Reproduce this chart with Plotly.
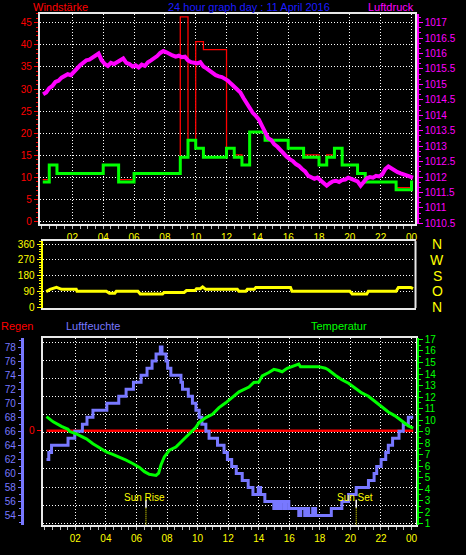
import plotly.graph_objects as go

W, H = 466, 555
FONT = "Liberation Sans Narrow, Liberation Sans, DejaVu Sans, sans-serif"

# ---------------- DATA ----------------
hour_ticks = [2, 4, 6, 8, 10, 12, 14, 16, 18, 20, 22, 24]
hour_labels = ["02", "04", "06", "08", "10", "12", "14", "16", "18", "20", "22", "00"]

# average wind (km/h), step series
wind_hours = [0.08, 0.5, 1.0, 4.0, 5.0, 6.0, 9.0, 9.5, 10.0, 10.5, 12.0, 12.5, 13.0,
              13.5, 14.5, 16.0, 17.0, 18.0, 18.5, 19.0, 19.5, 20.5, 21.0, 23.0, 24.0, 24.1]
wind_avg = [9.0, 12.8, 10.9, 12.8, 9.0, 10.9, 14.6, 18.4, 16.6, 14.6, 16.6, 14.6, 12.8,
            20.3, 18.4, 16.6, 14.6, 12.8, 14.6, 16.6, 12.8, 10.9, 9.0, 7.2, 9.0, 9.0]
# gusts (km/h), same step times
wind_gust = [9.5, 12.8, 10.9, 12.8, 9.5, 10.9, 46.3, 18.4, 40.7, 38.9, 16.6, 15.1, 12.8,
             20.3, 18.4, 16.6, 15.1, 12.8, 15.1, 16.6, 12.8, 10.9, 9.0, 7.7, 9.0, 9.0]

# air pressure (hPa), sampled every 12 minutes from 00:06
pressure = [
    1014.68, 1014.74, 1014.88, 1014.95, 1015.08, 1015.12, 1015.22, 1015.27, 1015.33, 1015.30,
    1015.42, 1015.50, 1015.62, 1015.70, 1015.78, 1015.80, 1015.88, 1015.93, 1016.00, 1015.78,
    1015.66, 1015.60, 1015.70, 1015.66, 1015.72, 1015.76, 1015.84, 1015.70, 1015.66, 1015.58,
    1015.62, 1015.55, 1015.64, 1015.60, 1015.72, 1015.78, 1015.84, 1015.92, 1016.02, 1016.08,
    1016.04, 1015.98, 1015.94, 1015.90, 1015.93, 1015.88, 1015.90, 1015.78, 1015.72, 1015.70,
    1015.68, 1015.72, 1015.58, 1015.52, 1015.44, 1015.34, 1015.30, 1015.26, 1015.24, 1015.18,
    1015.12, 1015.02, 1014.94, 1014.84, 1014.74, 1014.56, 1014.40, 1014.22, 1014.08, 1013.98,
    1013.86, 1013.66, 1013.42, 1013.26, 1013.20, 1013.06, 1012.98, 1012.86, 1012.78, 1012.66,
    1012.58, 1012.52, 1012.42, 1012.36, 1012.26, 1012.18, 1012.04, 1012.00, 1011.94, 1011.98,
    1011.90, 1011.84, 1011.72, 1011.80, 1011.86, 1011.88, 1011.84, 1011.90, 1011.92, 1011.98,
    1011.94, 1011.90, 1011.86, 1011.72, 1011.84, 1011.96, 1012.00, 1011.98, 1012.04, 1012.02,
    1012.08, 1012.26, 1012.34, 1012.28, 1012.20, 1012.16, 1012.12, 1012.08, 1012.04, 1012.02,
    1011.98]
pressure_hours = [round(0.1 + 0.2 * i, 2) for i in range(len(pressure))]

pressure_ticks = [1010.5, 1011, 1011.5, 1012, 1012.5, 1013, 1013.5, 1014, 1014.5,
                  1015, 1015.5, 1016, 1016.5, 1017]
pressure_labels = ["1010.5", "1011", "1011.5", "1012", "1012.5", "1013", "1013.5", "1014",
                   "1014.5", "1015", "1015.5", "1016", "1016.5", "1017"]

# wind direction (degrees)
dir_hours = [0.3, 0.55, 0.97, 1.3, 2.25, 2.3, 4.2, 4.4, 4.75, 4.85, 6.25, 6.4, 7.85, 7.95,
             9.25, 9.4, 9.95, 10.05, 10.3, 10.45, 10.65, 12.7, 12.8, 13.25, 13.35, 13.8,
             13.9, 16.15, 16.25, 20.0, 20.15, 21.1, 21.2, 23.0, 23.15, 23.95, 24.1]
dir_deg = [88, 101, 112, 101, 101, 90, 90, 79, 79, 90, 90, 75, 75, 83,
           83, 94, 94, 105, 105, 115, 101, 101, 90, 90, 101, 101,
           112, 112, 90, 90, 75, 75, 90, 90, 112, 112, 105]
dir_ticks = [0, 90, 180, 270, 360]
dir_letters = ["N", "O", "S", "W", "N"]

# humidity (%), step series
hum_hours = [0.11, 0.26, 0.44, 1.52, 1.96, 2.46, 2.76, 3.15, 4.06, 4.84, 5.32, 5.80, 6.30,
             6.69, 7.02, 7.28, 7.56, 7.67, 7.93, 8.04, 8.25, 8.91, 9.01, 9.39, 9.66, 9.89,
             10.10, 10.28, 10.54, 10.75, 11.30, 11.73, 11.95, 12.23, 12.53, 12.92, 13.31,
             13.62, 13.97, 14.12, 14.40, 14.99, 15.12, 15.31, 15.44, 15.64, 15.77, 15.97,
             16.62, 16.75, 17.01, 17.14, 17.27, 17.53, 17.72, 18.75, 19.44, 19.88, 20.38,
             21.18, 21.55, 21.72, 22.01, 22.31, 22.48, 22.76, 23.18, 23.46, 23.79, 24.11]
humidity = [62, 63, 64, 65, 66, 67, 68, 69, 70, 71, 72, 73, 74,
            75, 76, 77, 78, 77, 76, 75, 74, 73, 72, 71, 70, 69,
            68, 67, 66, 65, 64, 63, 62, 61, 60, 59, 58,
            57, 58, 57, 56, 55, 56, 55, 56, 55, 56, 55,
            54, 55, 54, 55, 54, 55, 54, 55, 56, 57, 58,
            59, 60, 61, 62, 63, 64, 65, 66, 67, 68, 68]
hum_ticks = [54, 56, 58, 60, 62, 64, 66, 68, 70, 72, 74, 76, 78]

# temperature (°C)
temp_hours = [0.11, 0.55, 1.09, 1.52, 1.63, 2.06, 2.72, 3.15, 3.58, 4.02, 4.45, 4.89, 5.32,
              5.75, 6.19, 6.52, 6.84, 7.28, 7.45, 7.60, 7.82, 8.15, 8.58, 9.01, 9.45, 9.89,
              10.10, 10.54, 10.97, 11.40, 11.84, 12.27, 12.71, 13.36, 13.68, 14.01, 14.23,
              14.66, 14.99, 15.31, 15.53, 15.86, 16.18, 16.62, 16.73, 17.27, 17.92, 18.36,
              18.57, 19.01, 19.44, 19.88, 20.31, 20.74, 21.18, 21.62, 22.05, 22.48, 22.92,
              23.35, 23.79, 24.11]
temperature = [10.3, 9.85, 9.45, 9.2, 9.0, 8.8, 8.37, 7.94, 7.6, 7.23, 7.03, 6.8, 6.52,
               6.23, 5.89, 5.52, 5.29, 5.2, 5.4, 6.1, 6.8, 7.38, 7.66, 8.23, 8.8, 9.37,
               9.8, 10.22, 10.5, 11.08, 11.5, 11.93, 12.45, 12.87, 13.27, 13.3, 13.84,
               14.13, 14.4, 14.3, 14.2, 14.5, 14.64, 14.86, 14.64, 14.64, 14.64, 14.5,
               14.35, 13.9, 13.5, 13.2, 12.8, 12.36, 12.07, 11.65, 11.16, 10.7, 10.37,
               9.94, 9.5, 9.3]
temp_ticks = list(range(1, 18))

# rain (mm)
rain_hours = [0.11, 24.11]
rain = [0, 0]

# sun events
sun_events = ["Sun Rise", "Sun Set"]
sun_times = [6.62, 20.38]

# ---------------- STYLE ----------------
RED = "#ff0000"
GREEN = "#00ff00"
MAGENTA = "#ff00ff"
YELLOW = "#ffff00"
HUMC = "#7878ff"
TITLEC = "#1c1cff"
FRAME = "#e8e8e8"
GRID = dict(showgrid=True, gridcolor="#ffffff", gridwidth=1, griddash="1px,2px")


def fx(px):
    return px / W


def fy(py):
    return 1 - py / H


fig = go.Figure()

# top panel
fig.add_trace(go.Scatter(x=wind_hours, y=wind_gust, mode="lines", line=dict(color=RED, width=1.3, shape="hv"),
                         xaxis="x", yaxis="y", hoverinfo="skip"))
fig.add_trace(go.Scatter(x=wind_hours, y=wind_avg, mode="lines", line=dict(color=GREEN, width=3, shape="hv"),
                         xaxis="x", yaxis="y", hoverinfo="skip"))
fig.add_trace(go.Scatter(x=pressure_hours, y=pressure, mode="lines", line=dict(color=MAGENTA, width=4),
                         xaxis="x", yaxis="y2", hoverinfo="skip"))
# middle panel
fig.add_trace(go.Scatter(x=dir_hours, y=dir_deg, mode="lines", line=dict(color=YELLOW, width=3),
                         xaxis="x2", yaxis="y3", hoverinfo="skip"))
# bottom panel (rain on base axis, humidity & temperature overlaid)
fig.add_trace(go.Scatter(x=rain_hours, y=rain, mode="lines", line=dict(color=RED, width=2.5),
                         xaxis="x3", yaxis="y5", hoverinfo="skip"))
fig.add_trace(go.Scatter(x=hum_hours, y=humidity, mode="lines", line=dict(color=HUMC, width=3, shape="hv"),
                         xaxis="x3", yaxis="y6", hoverinfo="skip"))
fig.add_trace(go.Scatter(x=temp_hours, y=temperature, mode="lines", line=dict(color=GREEN, width=3),
                         xaxis="x3", yaxis="y7", hoverinfo="skip"))

tickfont_x = dict(color=YELLOW, size=10, family=FONT)
xcommon = dict(tickmode="array", tickvals=hour_ticks, ticktext=hour_labels, tickfont=tickfont_x,
               ticks="outside", ticklen=3, tickcolor="#bbbbbb", showline=True, linecolor=FRAME,
               linewidth=2, mirror=True, zeroline=False,
               minor=dict(dtick=0.5, tick0=0, ticks="outside", ticklen=3, tickcolor="#bbbbbb", showgrid=False))

layout = dict(
    width=W, height=H, autosize=False,
    margin=dict(l=0, r=0, t=0, b=0),
    paper_bgcolor="#000000", plot_bgcolor="#000000",
    showlegend=False,
    font=dict(family=FONT, size=10, color="#ffffff"),
    # ---- top panel
    xaxis=dict(domain=[fx(40), fx(417)], range=[-0.112, 24.24], anchor="y", **xcommon, **GRID),
    yaxis=dict(domain=[fy(224), fy(10)], range=[-0.6, 47.0], tickmode="array",
               tickvals=[0, 5, 10, 15, 20, 25, 30, 35, 40, 45],
               tickfont=dict(color=RED, size=10, family=FONT), ticks="outside", ticklen=4, tickcolor=RED,
               showline=True, linecolor=FRAME, linewidth=2, mirror=True, zeroline=False,
               minor=dict(dtick=1, tick0=0, ticks="outside", ticklen=2, tickcolor=RED, showgrid=False),
               anchor="x", **GRID),
    yaxis2=dict(overlaying="y", side="right", anchor="free", position=fx(419.5),
                range=[1010.467, 1017.287], tickmode="array", tickvals=pressure_ticks, ticktext=pressure_labels,
                tickfont=dict(color=MAGENTA, size=10, family=FONT), ticks="outside", ticklen=4,
                tickcolor=MAGENTA, showline=True, linecolor=MAGENTA, linewidth=2, showgrid=False,
                zeroline=False,
                minor=dict(dtick=0.5 / 3, tick0=1010.5, ticks="outside", ticklen=2, tickcolor=MAGENTA,
                           showgrid=False)),
    # ---- middle panel
    xaxis2=dict(domain=[fx(42.7), fx(417.3)], range=[0.062, 24.26], anchor="y3", showticklabels=False,
                ticks="", showgrid=False, showline=True, linecolor=FRAME, linewidth=2, mirror=True,
                zeroline=False),
    yaxis3=dict(domain=[fy(309), fy(241)], range=[-5.6, 377], anchor="x2", tickmode="array",
                tickvals=dir_ticks, tickfont=dict(color=YELLOW, size=10, family=FONT), ticks="outside",
                ticklen=4, tickcolor=YELLOW, showline=True, linecolor=YELLOW, linewidth=2, zeroline=False,
                minor=dict(dtick=15, tick0=0, ticks="outside", ticklen=2, tickcolor=YELLOW, showgrid=False),
                **GRID),
    # ---- bottom panel
    xaxis3=dict(domain=[fx(42.7), fx(417.3)], range=[-0.15, 24.26], anchor="y5", **xcommon, **GRID),
    yaxis5=dict(domain=[fy(529.3), fy(339.3)], range=[-5.213, 5.147], anchor="x3", tickmode="array",
                tickvals=[0], ticktext=["0"], tickfont=dict(color=RED, size=10, family=FONT),
                ticks="outside", ticklen=4, tickcolor=RED, showline=True, linecolor=FRAME, linewidth=2,
                mirror=True, zeroline=False, showgrid=False,
                minor=dict(tick0=-0.125, dtick=1, ticks="", showgrid=True, gridcolor="#ffffff",
                           gridwidth=1, griddash="1px,2px")),
    yaxis6=dict(overlaying="y5", side="left", anchor="free", position=fx(22), range=[52.70, 79.32],
                tickmode="array", tickvals=hum_ticks, tickfont=dict(color=HUMC, size=10, family=FONT),
                ticks="outside", ticklen=3, tickcolor=HUMC, showline=True, linecolor=HUMC, linewidth=3,
                showgrid=False, zeroline=False,
                minor=dict(dtick=1, tick0=0, ticks="outside", ticklen=2, tickcolor=HUMC, showgrid=False)),
    yaxis7=dict(overlaying="y5", side="right", anchor="free", position=fx(419.5), range=[0.915, 17.145],
                tickmode="array", tickvals=temp_ticks, tickfont=dict(color=GREEN, size=10, family=FONT),
                ticks="outside", ticklen=4, tickcolor=GREEN, showline=True, linecolor=GREEN, linewidth=2,
                showgrid=False, zeroline=False,
                minor=dict(dtick=0.5, tick0=0, ticks="outside", ticklen=2, tickcolor=GREEN, showgrid=False)),
)
fig.update_layout(**layout)

shapes = []
annotations = []

# right white border of the middle panel
shapes.append(dict(type="line", xref="x2 domain", yref="y3 domain", x0=1, x1=1, y0=0, y1=1,
                   line=dict(color=FRAME, width=2)))

# compass letters beside the wind-direction axis
for val, letter in zip(dir_ticks, dir_letters):
    annotations.append(dict(text=letter, xref="paper", yref="y3", x=fx(439), y=val, showarrow=False,
                            xanchor="center", yanchor="middle",
                            font=dict(color=YELLOW, size=14, family=FONT)))

# sun rise / sun set markers
for name, t in zip(sun_events, sun_times):
    shapes.append(dict(type="line", xref="x3", yref="y5 domain", x0=t, x1=t, y0=0.091, y1=0.133,
                       line=dict(color="#ffffff", width=1.5)))
    shapes.append(dict(type="line", xref="x3", yref="y5 domain", x0=t, x1=t, y0=0.0, y1=0.091,
                       line=dict(color=YELLOW, width=1, dash="1px,1px")))
    annotations.append(dict(text=name, xref="x3", yref="y5 domain", x=t, y=0.147, xshift=-1,
                            showarrow=False, font=dict(color=YELLOW, size=10, family=FONT),
                            xanchor="center", yanchor="middle"))

# titles
titles = [
    ("Windstärke", 61, 3.5, RED, 11),
    ("24 hour graph day : 11 April 2016", 250, 3.5, TITLEC, 11),
    ("Luftdruck", 393, 3.5, MAGENTA, 11),
    ("Regen", 17, 327, RED, 11),
    ("Luftfeuchte", 93, 327, HUMC, 11),
    ("Temperatur", 340, 327, GREEN, 11),
]
for txt, cx, cy, col, sz in titles:
    annotations.append(dict(text=txt, xref="paper", yref="paper", x=fx(cx), y=fy(cy), showarrow=False,
                            xanchor="center", yanchor="middle", font=dict(color=col, size=sz, family=FONT)))

fig.update_layout(shapes=shapes, annotations=annotations)
fig.write_html("out.html", config={"displayModeBar": False, "staticPlot": True},
               post_script="document.body.style.margin='0px';document.body.style.overflow='hidden';")
